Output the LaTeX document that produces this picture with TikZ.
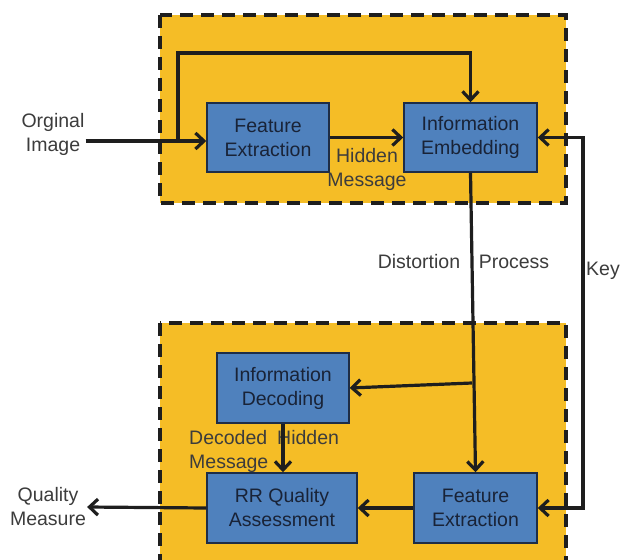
\documentclass[tikz,border=0pt]{standalone}
\usepackage{fontspec}
\setmainfont{Liberation Sans}
\usetikzlibrary{arrows.meta}
\definecolor{panel}{RGB}{245,189,38}
\definecolor{boxblue}{RGB}{79,129,189}
\definecolor{boxedge}{RGB}{30,45,70}
\definecolor{ink}{RGB}{30,30,30}
\definecolor{boxtext}{RGB}{25,35,55}
\definecolor{lblink}{RGB}{60,60,60}
\begin{document}
\begin{tikzpicture}[x=1pt,y=-1pt,
  font=\fontsize{19.5}{24}\selectfont,
  panelbox/.style={fill=panel, draw=ink, line width=4pt, dash pattern=on 13pt off 8pt},
  block/.style={draw=boxedge, fill=boxblue, line width=1.5pt, inner sep=0pt, align=center, text=boxtext},
  flow/.style={draw=ink, line width=3.2pt, -{Straight Barb[length=8.5pt,width=16pt]}},
  lbl/.style={text=lblink, inner sep=1pt}]
\clip (0,0) rectangle (631,559);
\fill[white] (0,0) rectangle (631,559);
\path[panelbox] (160,15) rectangle (566,203);
\path[panelbox] (160,323) rectangle (566,600);

\node[block, minimum width=122pt, minimum height=69pt] (fe1) at (268,137.5) {Feature\\Extraction};
\node[block, minimum width=133pt, minimum height=69pt] (ie) at (470.5,137.5) {Information\\Embedding};
\node[block, minimum width=132pt, minimum height=70pt] (id) at (283,388) {Information\\Decoding};
\node[block, minimum width=150pt, minimum height=70pt] (rr) at (282,508) {RR Quality\\Assessment};
\node[block, minimum width=123pt, minimum height=70pt] (fe2) at (475.5,508) {Feature\\Extraction};

\node[lbl, align=center] (orig) at (53,134) {Orginal\\Image};
\node[lbl, align=center] (qm) at (48,507) {Quality\\Measure};
\node[lbl, align=center] (hm) at (367,169) {Hidden\\Message};
\node[lbl] (dist) at (419,262) {Distortion};
\node[lbl] (proc) at (514,262) {Process};
\node[lbl] (key) at (603,271) {Key};
\node[lbl, align=left, anchor=north west] (dhm) at (188,429) {Decoded\hspace{10pt}Hidden\\Message};

\coordinate (split) at (178,141);
\coordinate (top) at (178,53);
\coordinate (br) at (472,383);
\coordinate (k1) at (583,137.5);
\coordinate (k2) at (583,508);

\draw[flow] (orig.east |- split) -- (fe1.west |- split);
\draw[flow] (split) -- (top) -| (ie.north);
\draw[flow] (fe1.east) -- (ie.west);
\draw[flow] (ie.south) -- (fe2.north);
\draw[flow] (br) -- (id.east);
\draw[flow, {Straight Barb[length=8.5pt,width=16pt]}-{Straight Barb[length=8.5pt,width=16pt]}] (ie.east) -- (k1) -- (k2) -- (fe2.east);
\draw[flow] (id.south) -- (id.south |- rr.north);
\draw[flow] (fe2.west) -- (rr.east);
\draw[flow] (rr.west) -- (qm.east);
\end{tikzpicture}
\end{document}
